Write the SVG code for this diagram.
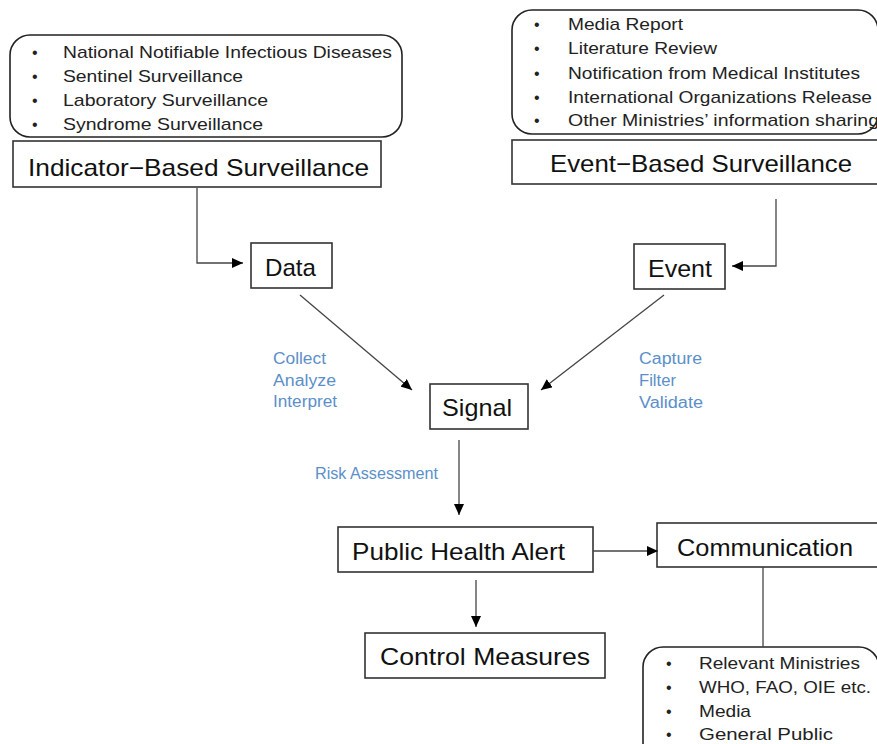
<svg xmlns="http://www.w3.org/2000/svg" width="877" height="744" viewBox="0 0 877 744">
<defs>
<style>
.box{fill:#fff;stroke:#333;stroke-width:1.6}
.rbox{fill:#fff;stroke:#222;stroke-width:1.6}
.lbl{font-family:"Liberation Sans",Arial,sans-serif;font-size:24px;fill:#111}
.itm{font-family:"Liberation Sans",Arial,sans-serif;font-size:17px;fill:#222}
.bul{font-family:"Liberation Sans",Arial,sans-serif;font-size:16px;fill:#222}
.blue{font-family:"Liberation Sans",Arial,sans-serif;font-size:16px;fill:#5b8fc9}
.con{fill:none;stroke:#444;stroke-width:1.3}
</style>
<marker id="ah" markerUnits="userSpaceOnUse" markerWidth="12" markerHeight="10" refX="11" refY="5" orient="auto">
<path d="M0,0 L11,5 L0,10 z" fill="#000"/>
</marker>
</defs>
<rect width="877" height="744" fill="#fff"/>

<g id="ibs-sources">
<rect class="rbox" x="10" y="35" width="392" height="102" rx="20"/>
<text class="bul" x="32" y="58">•</text><text class="itm" x="63" y="58" textLength="329" lengthAdjust="spacingAndGlyphs">National Notifiable Infectious Diseases</text>
<text class="bul" x="32" y="82">•</text><text class="itm" x="63" y="82" textLength="180" lengthAdjust="spacingAndGlyphs">Sentinel Surveillance</text>
<text class="bul" x="32" y="106">•</text><text class="itm" x="63" y="106" textLength="205" lengthAdjust="spacingAndGlyphs">Laboratory Surveillance</text>
<text class="bul" x="32" y="130">•</text><text class="itm" x="63" y="130" textLength="200" lengthAdjust="spacingAndGlyphs">Syndrome Surveillance</text>
</g>

<g id="ibs">
<rect class="box" x="13" y="141" width="368" height="46"/>
<text class="lbl" x="28" y="176" textLength="341" lengthAdjust="spacingAndGlyphs">Indicator−Based Surveillance</text>
</g>

<g id="ebs-sources">
<rect class="rbox" x="512" y="10" width="366" height="124" rx="20"/>
<text class="bul" x="534" y="30">•</text><text class="itm" x="568" y="30" textLength="115" lengthAdjust="spacingAndGlyphs">Media Report</text>
<text class="bul" x="534" y="54">•</text><text class="itm" x="568" y="54" textLength="149" lengthAdjust="spacingAndGlyphs">Literature Review</text>
<text class="bul" x="534" y="79">•</text><text class="itm" x="568" y="79" textLength="292" lengthAdjust="spacingAndGlyphs">Notification from Medical Institutes</text>
<text class="bul" x="534" y="103">•</text><text class="itm" x="568" y="103" textLength="304" lengthAdjust="spacingAndGlyphs">International Organizations Release</text>
<text class="bul" x="534" y="126">•</text><text class="itm" x="568" y="126" textLength="311" lengthAdjust="spacingAndGlyphs">Other Ministries’ information sharing</text>
</g>

<g id="ebs">
<rect class="box" x="512" y="140" width="368" height="44"/>
<text class="lbl" x="550" y="172" textLength="302" lengthAdjust="spacingAndGlyphs">Event−Based Surveillance</text>
</g>

<g id="data">
<rect class="box" x="251" y="243" width="81" height="45"/>
<text class="lbl" x="265" y="276" textLength="51" lengthAdjust="spacingAndGlyphs">Data</text>
</g>

<g id="event">
<rect class="box" x="634" y="244" width="91" height="45"/>
<text class="lbl" x="648" y="277" textLength="64" lengthAdjust="spacingAndGlyphs">Event</text>
</g>

<g id="signal">
<rect class="box" x="430" y="384" width="98" height="45"/>
<text class="lbl" x="442" y="416" textLength="70" lengthAdjust="spacingAndGlyphs">Signal</text>
</g>

<g id="alert">
<rect class="box" x="338" y="527" width="255" height="45"/>
<text class="lbl" x="352" y="560" textLength="213" lengthAdjust="spacingAndGlyphs">Public Health Alert</text>
</g>

<g id="communication">
<rect class="box" x="657" y="523" width="224" height="44"/>
<text class="lbl" x="677" y="556" textLength="176" lengthAdjust="spacingAndGlyphs">Communication</text>
</g>

<g id="control">
<rect class="box" x="365" y="633" width="240" height="45"/>
<text class="lbl" x="380" y="665" textLength="210" lengthAdjust="spacingAndGlyphs">Control Measures</text>
</g>

<g id="audience">
<rect class="rbox" x="643" y="647" width="236" height="115" rx="20"/>
<text class="bul" x="666" y="669">•</text><text class="itm" x="699" y="669" textLength="161" lengthAdjust="spacingAndGlyphs">Relevant Ministries</text>
<text class="bul" x="666" y="693">•</text><text class="itm" x="699" y="693" textLength="172" lengthAdjust="spacingAndGlyphs">WHO, FAO, OIE etc.</text>
<text class="bul" x="666" y="717">•</text><text class="itm" x="699" y="717" textLength="52" lengthAdjust="spacingAndGlyphs">Media</text>
<text class="bul" x="666" y="740">•</text><text class="itm" x="699" y="740" textLength="134" lengthAdjust="spacingAndGlyphs">General Public</text>
</g>

<g id="labels">
<text class="blue" x="273" y="364" textLength="53" lengthAdjust="spacingAndGlyphs">Collect</text>
<text class="blue" x="273" y="386" textLength="63" lengthAdjust="spacingAndGlyphs">Analyze</text>
<text class="blue" x="273" y="407" textLength="64" lengthAdjust="spacingAndGlyphs">Interpret</text>
<text class="blue" x="639" y="364" textLength="63" lengthAdjust="spacingAndGlyphs">Capture</text>
<text class="blue" x="639" y="386" textLength="37" lengthAdjust="spacingAndGlyphs">Filter</text>
<text class="blue" x="639" y="408" textLength="64" lengthAdjust="spacingAndGlyphs">Validate</text>
<text class="blue" x="315" y="479" textLength="123" lengthAdjust="spacingAndGlyphs">Risk Assessment</text>
</g>

<g id="connectors">
<path class="con" d="M197 188 V263 H243" marker-end="url(#ah)"/>
<path class="con" d="M776 199 V266 H732" marker-end="url(#ah)"/>
<path class="con" d="M300 295 L412 390" marker-end="url(#ah)"/>
<path class="con" d="M664 295 L541 390" marker-end="url(#ah)"/>
<path class="con" d="M459 440 V515" marker-end="url(#ah)"/>
<path class="con" d="M593 551 H658" marker-end="url(#ah)"/>
<path class="con" d="M476 580 V627" marker-end="url(#ah)"/>
<path class="con" d="M763 567 V647"/>
</g>
</svg>
